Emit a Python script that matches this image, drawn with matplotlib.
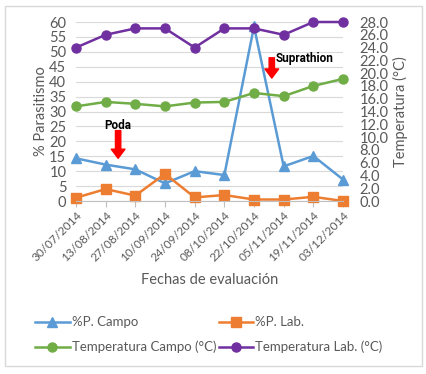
import numpy as np
import matplotlib
matplotlib.use('Agg')
import matplotlib.pyplot as plt
from matplotlib.patches import Rectangle

plt.rcParams['font.family'] = ['Lato', 'DejaVu Sans']

# Datos
fechas = ['30/07/2014', '13/08/2014', '27/08/2014', '10/09/2014', '24/09/2014',
          '08/10/2014', '22/10/2014', '05/11/2014', '19/11/2014', '03/12/2014']
p_campo = [14.3, 12.2, 10.6, 5.9, 10.0, 8.7, 58.5, 11.6, 15.1, 7.2]
p_lab = [1.1, 4.0, 1.8, 9.1, 1.2, 2.0, 0.5, 0.5, 1.4, 0.0]
t_campo = [14.8, 15.5, 15.2, 14.8, 15.4, 15.5, 16.9, 16.4, 18.0, 19.1]
t_lab = [24.0, 26.0, 27.0, 27.0, 24.0, 27.0, 27.0, 26.0, 28.0, 28.0]

c_azul = '#5B9BD5'
c_naranja = '#ED7D31'
c_verde = '#70AD47'
c_morado = '#7030A0'
gris = '#595959'

fig = plt.figure(figsize=(4.27, 3.74), dpi=100)
ax = fig.add_axes([76 / 427, 1 - 201 / 374, 267 / 427, 179 / 374])
ax2 = ax.twinx()

x = np.arange(len(fechas))
estilo = dict(lw=1.8, ms=6.5, clip_on=False)
l1, = ax.plot(x, p_campo, color=c_azul, marker='^', label='%P. Campo', **estilo)
l2, = ax.plot(x, p_lab, color=c_naranja, marker='s', label='%P. Lab.', **estilo)
l3, = ax2.plot(x, t_campo, color=c_verde, marker='o', label='Temperatura Campo (°C)', **estilo)
l4, = ax2.plot(x, t_lab, color=c_morado, marker='o', label='Temperatura Lab. (°C)', **estilo)

ax.set_xlim(0, len(fechas) - 1)
ax.set_ylim(0, 60)
ax.set_yticks(np.arange(0, 61, 5))
ax2.set_ylim(0, 28)
ax2.set_yticks(np.arange(0, 28.1, 2))
ax2.set_yticklabels([f'{v:.1f}' for v in np.arange(0, 28.1, 2)])

ax.set_xticks(x)
ax.set_xticklabels(fechas, rotation=45, ha='right', rotation_mode='anchor', fontsize=8.5, color=gris)
ax.grid(axis='y', color='#D9D9D9', lw=0.8)
ax.set_axisbelow(True)

for a in (ax, ax2):
    for s in a.spines.values():
        s.set_visible(False)
ax.spines['bottom'].set_visible(True)
ax.spines['bottom'].set_color('#BFBFBF')
ax.tick_params(axis='x', length=4, color='#BFBFBF', pad=2)
ax.tick_params(axis='y', length=0, labelsize=10.5, labelcolor=gris, pad=7)
ax2.tick_params(axis='y', length=0, labelsize=10.5, labelcolor=gris, pad=12)

ax.set_ylabel('% Parasitismo', fontsize=10.5, color=gris, labelpad=1)
ax2.set_ylabel('Temperatura (°C)', fontsize=10.5, color=gris, labelpad=3)
ax.set_xlabel('Fechas de evaluación', fontsize=10.5, color=gris, labelpad=7)

# Anotaciones
flecha = dict(arrowstyle='simple,head_width=0.9,head_length=0.6,tail_width=0.35',
              color='red', mutation_scale=11, shrinkA=0, shrinkB=0)
fuente_nota = dict(fontsize=8.5, fontweight='bold', ha='center', va='center',
                   family=['Roboto', 'DejaVu Sans'])
ax.text(1.42, 25.2, 'Poda', **fuente_nota)
ax.annotate('', xy=(1.42, 14.3), xytext=(1.42, 23.6), arrowprops=flecha)
ax.text(7.72, 47.6, 'Suprathion', **fuente_nota)
ax.annotate('', xy=(6.6, 41.2), xytext=(6.6, 48.0), arrowprops=flecha)

leg = fig.legend([l1, l3, l2, l4], [l1.get_label(), l3.get_label(), l2.get_label(), l4.get_label()],
                 ncol=2, loc='upper left', bbox_to_anchor=(30 / 427, 1 - 311 / 374),
                 frameon=False, fontsize=9.5, handlelength=2.6, handletextpad=0.15,
                 columnspacing=0.2, labelspacing=0.95, borderaxespad=0)
for t in leg.get_texts():
    t.set_color(gris)

fig.patches.append(Rectangle((5 / 427, 1 - 366 / 374), 417 / 427, 360 / 374,
                             transform=fig.transFigure, fill=False, edgecolor='#D9D9D9', lw=1))

fig.savefig('out.png', dpi=100)
